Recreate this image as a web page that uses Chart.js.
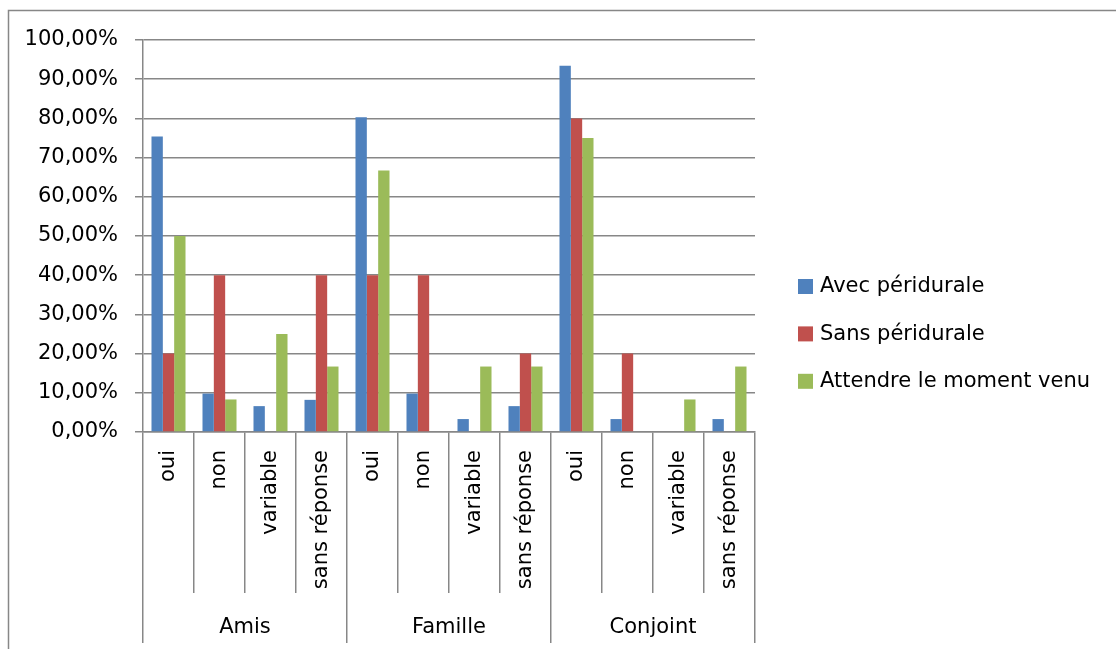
<!DOCTYPE html>
<html>
<head>
<meta charset="utf-8">
<script src="https://cdn.jsdelivr.net/npm/chart.js@4"></script>
<style>
    body { margin: 0; background: #fff; }
    canvas { display: block; }
</style>
</head>
<body>
<canvas id="chart" width="1116" height="649"></canvas>
<script>
// Data
const groups = ['Amis', 'Famille', 'Conjoint'];
const subCategories = ['oui', 'non', 'variable', 'sans réponse'];
const seriesNames = ['Avec péridurale', 'Sans péridurale', 'Attendre le moment venu'];
const avecPeridurale = [75.4, 9.8, 6.6, 8.2, 80.3, 9.8, 3.3, 6.6, 93.4, 3.3, 0, 3.3];
const sansPeridurale = [20, 40, 0, 40, 40, 40, 0, 20, 80, 20, 0, 0];
const attendreMoment = [50, 8.3, 25, 16.7, 66.7, 0, 16.7, 16.7, 75, 0, 8.3, 16.7];
const seriesColors = ['#4F81BD', '#C0504D', '#9BBB59'];

const lineColor = '#878787';

Chart.defaults.font.family = "'DejaVu Sans', sans-serif";
Chart.defaults.font.size = 21;
Chart.defaults.color = '#000';

/**
 * Frame + white background
 */
const framePlugin = {
    id: 'frame',
    beforeDraw(chart) {
        const ctx = chart.ctx;
        ctx.save();
        ctx.fillStyle = '#fff';
        ctx.fillRect(0, 0, chart.width, chart.height);
        ctx.strokeStyle = lineColor;
        ctx.lineWidth = 1.5;
        ctx.beginPath();
        ctx.moveTo(8.5, chart.height);
        ctx.lineTo(8.5, 10.5);
        ctx.lineTo(chart.width, 10.5);
        ctx.stroke();
        ctx.restore();
    }
};

/**
 * Legend drawn on the right, Excel style
 */
const legendPlugin = {
    id: 'sideLegend',
    afterDraw(chart) {
        const ctx = chart.ctx;
        ctx.save();
        ctx.font = "21px 'DejaVu Sans', sans-serif";
        ctx.textBaseline = 'middle';
        chart.data.datasets.forEach((ds, i) => {
            const y = 286 + i * 47.4;
            ctx.fillStyle = ds.backgroundColor;
            ctx.fillRect(798, y - 7, 15, 15);
            ctx.fillStyle = '#000';
            ctx.fillText(ds.label, 820, y + 1);
        });
        ctx.restore();
    }
};

const ctx = document.getElementById('chart').getContext('2d');
const labels = groups.flatMap(() => subCategories);

new Chart(ctx, {
    type: 'bar',
    data: {
        labels: labels,
        datasets: [
            { label: seriesNames[0], data: avecPeridurale, backgroundColor: seriesColors[0] },
            { label: seriesNames[1], data: sansPeridurale, backgroundColor: seriesColors[1] },
            { label: seriesNames[2], data: attendreMoment, backgroundColor: seriesColors[2] }
        ]
    },
    options: {
        responsive: false,
        animation: false,
        devicePixelRatio: 1,
        layout: {
            padding: { left: 0, right: 361, top: 40, bottom: 6 }
        },
        datasets: {
            bar: {
                categoryPercentage: 0.667,
                barPercentage: 1.0
            }
        },
        scales: {
            y: {
                min: 0,
                max: 100,
                afterFit: scale => { scale.width = 143; },
                ticks: {
                    stepSize: 10,
                    padding: 17,
                    callback: value => value.toFixed(2).replace('.', ',') + '%'
                },
                grid: {
                    color: lineColor,
                    lineWidth: 1.5,
                    tickLength: 8
                },
                border: { color: lineColor, width: 1.5 }
            },
            x: {
                weight: 0,
                afterFit: scale => { scale.height = 161; },
                ticks: {
                    autoSkip: false,
                    minRotation: 90,
                    maxRotation: 90,
                    padding: -143
                },
                grid: {
                    offset: true,
                    drawOnChartArea: false,
                    color: lineColor,
                    lineWidth: 1.5,
                    tickLength: 161
                },
                border: { color: lineColor, width: 1.5 }
            },
            x2: {
                type: 'category',
                position: 'bottom',
                weight: 1,
                labels: groups,
                offset: true,
                afterFit: scale => { scale.height = 50; },
                ticks: {
                    maxRotation: 0,
                    padding: -28
                },
                grid: {
                    offset: true,
                    drawOnChartArea: false,
                    color: lineColor,
                    lineWidth: 1.5,
                    tickLength: 50
                },
                border: { display: false }
            }
        },
        plugins: {
            legend: { display: false },
            tooltip: { enabled: false }
        }
    },
    plugins: [framePlugin, legendPlugin]
});
</script>
</body>
</html>
